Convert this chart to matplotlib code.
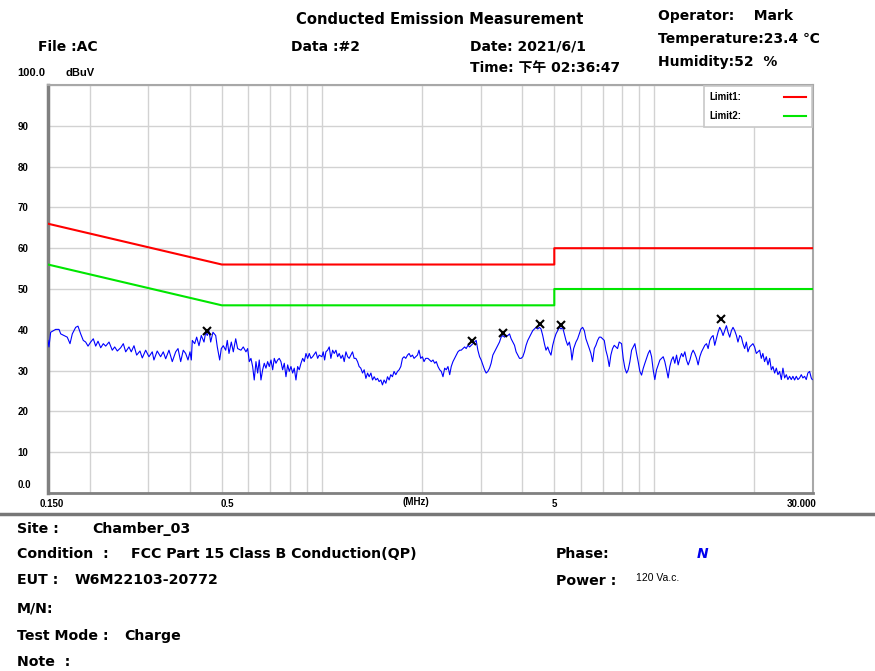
import matplotlib as mpl
mpl.use('Agg')
import matplotlib.pyplot as plt
from matplotlib.lines import Line2D
from matplotlib.ticker import FixedLocator, NullFormatter
from matplotlib.transforms import ScaledTranslation

plt.rcParams['font.family'] = ['DejaVu Sans', 'Noto Sans CJK SC']

# scan trace, MHz / dBuV
freq = [0.150, 0.151, 0.1528, 0.1582, 0.1619, 0.1638, 0.1676, 0.1714, 0.1747, 0.1775,
        0.1817, 0.1846, 0.1881, 0.1915, 0.1947, 0.1979, 0.2016, 0.2053, 0.2087, 0.2121,
        0.2161, 0.2200, 0.2237, 0.2289, 0.2341, 0.2381, 0.2424, 0.2481, 0.2527, 0.2569,
        0.2628, 0.2670, 0.2721, 0.2772, 0.2836, 0.2882, 0.2950, 0.3018, 0.3088, 0.3124,
        0.3196, 0.3272, 0.3333, 0.3389, 0.3467, 0.3547, 0.3632, 0.3691, 0.3760, 0.3828,
        0.3892, 0.3955, 0.4011, 0.4047, 0.4075, 0.4143, 0.4200, 0.4268, 0.4337, 0.4419,
        0.4471, 0.4521, 0.4574, 0.4628, 0.4702, 0.4792, 0.4845, 0.4926, 0.4981, 0.5050,
        0.5135, 0.5192, 0.5254, 0.5339, 0.5413, 0.5504,
        0.5578, 0.5707, 0.5800, 0.5909, 0.5979, 0.6046, 0.6117, 0.6189, 0.6258, 0.6333,
        0.6408, 0.6479, 0.6556, 0.6634, 0.6708, 0.6787, 0.6867, 0.6945, 0.7027, 0.7110,
        0.7189, 0.7274, 0.7360, 0.7442, 0.7529, 0.7618, 0.7705, 0.7796, 0.7888, 0.7976,
        0.8070, 0.8166, 0.8256, 0.8354, 0.8453, 0.8547, 0.8650, 0.8752, 0.8850, 0.8954,
        0.9060, 0.9160, 0.9268, 0.9378, 0.9594, 0.9707, 0.9815, 1.000, 1.009, 1.019,
        1.028, 1.040, 1.052, 1.064, 1.077, 1.089, 1.102, 1.115, 1.127, 1.141,
        1.154, 1.167, 1.181, 1.195, 1.208, 1.222, 1.236, 1.250, 1.265, 1.280,
        1.294, 1.309, 1.325, 1.340, 1.356, 1.372, 1.387, 1.404, 1.420, 1.436,
        1.453, 1.470, 1.486, 1.504, 1.521, 1.538, 1.557, 1.575, 1.593, 1.611,
        1.630, 1.648, 1.668, 1.688, 1.707, 1.727, 1.747, 1.767, 1.787, 1.809,
        1.829, 1.850, 1.872, 1.893, 1.915, 1.938, 1.959, 1.982, 2.006, 2.028, 2.052,
        2.084, 2.109, 2.133, 2.158, 2.184, 2.208, 2.234, 2.261, 2.286, 2.313,
        2.340, 2.366, 2.394, 2.423, 2.449, 2.478, 2.507, 2.535, 2.565, 2.596,
        2.624, 2.655, 2.687, 2.716, 2.749, 2.781, 2.812, 2.846, 2.879, 2.911,
        2.945, 2.980, 3.013, 3.049, 3.085, 3.119, 3.156, 3.193, 3.228, 3.267,
        3.305, 3.342, 3.381, 3.421, 3.459, 3.501, 3.542, 3.581, 3.624, 3.667,
        3.708, 3.751, 3.796, 3.838, 3.883, 3.929, 3.973, 4.020, 4.067, 4.112,
        4.161, 4.210, 4.257, 4.307, 4.358, 4.407, 4.459, 4.511, 4.561, 4.615,
        4.669, 4.721, 4.777, 4.833, 4.887, 4.945, 5.003, 5.059, 5.119, 5.179,
        5.237, 5.298, 5.361, 5.421, 5.485, 5.550, 5.611, 5.650, 5.717, 5.808,
        5.877, 5.947, 6.013, 6.084, 6.156, 6.224, 6.298, 6.372, 6.443, 6.519,
        6.596, 6.669, 6.748, 6.828, 6.904, 6.985, 7.068, 7.146, 7.231, 7.316,
        7.398, 7.485, 7.573, 7.657, 7.748, 7.839,
        7.968, 8.058, 8.153, 8.249, 8.341, 8.440, 8.540, 8.635, 8.737, 8.840,
        8.938, 9.044, 9.151, 9.253, 9.363, 9.474, 9.581, 9.694, 9.808, 9.917,
        10.03, 10.15, 10.27, 10.39, 10.51, 10.63, 10.75, 10.88, 11.00, 11.13,
        11.26, 11.39, 11.52, 11.66, 11.79, 11.93, 12.07, 12.20, 12.35, 12.49,
        12.64, 12.79, 12.94, 13.08, 13.23, 13.39, 13.54, 13.70, 13.86, 14.02,
        14.18, 14.35, 14.51, 14.68, 14.85, 15.02, 15.19, 15.37, 15.54, 15.72,
        15.91, 16.09, 16.28, 16.47, 16.66, 16.85, 17.05, 17.24, 17.44, 17.65,
        17.84, 18.06, 18.27, 18.47, 18.69, 18.91, 19.12, 19.35, 19.57, 19.79,
        20.02, 20.26, 20.48, 20.73, 20.97, 21.20, 21.45, 21.71, 21.96, 22.22,
        22.48, 22.73, 23.00, 23.27, 23.53, 23.81, 24.09, 24.36, 24.65, 24.94,
        25.21, 25.51, 25.81, 26.10, 26.41, 26.72, 27.02, 27.34, 27.66, 27.97,
        28.30, 28.63, 28.95, 29.30, 29.64, 29.84]
level = [37.4, 35.8, 39.4, 40.1, 40.1, 39.0, 38.6, 38.2, 36.6, 39.0,
         40.6, 40.9, 39.0, 37.4, 37.0, 36.0, 37.0, 37.8, 36.0, 37.2,
         35.6, 36.6, 36.0, 37.0, 35.0, 35.8, 34.8, 35.6, 36.6, 34.6,
         35.8, 34.6, 36.1, 33.8, 34.8, 33.1, 35.0, 33.4, 34.6, 32.6,
         34.8, 33.4, 34.6, 32.9, 35.0, 32.2, 34.6, 35.4, 32.2, 35.0,
         34.2, 32.6, 34.6, 32.6, 37.4, 36.6, 38.2, 36.1, 38.6, 37.0,
         39.4, 38.6, 39.8, 37.0, 39.4, 38.6, 35.8, 32.6, 35.4, 36.1,
         35.0, 37.4, 34.2, 37.0, 34.6, 37.8,
         35.4, 35.0, 35.8, 34.6, 35.4, 32.2, 33.0, 31.0, 27.7, 32.2,
         29.4, 32.6, 27.7, 30.2, 31.8, 30.6, 32.2, 31.0, 32.6, 30.2,
         33.0, 31.8, 32.6, 33.0, 32.2, 30.2, 31.8, 28.5, 31.4, 29.8,
         31.0, 29.4, 30.6, 27.7, 31.0, 30.2, 31.8, 33.0, 32.2, 34.2,
         33.0, 34.2, 33.0, 33.4, 34.6, 33.0, 33.8, 33.4, 34.6, 32.6,
         34.6, 35.0, 35.8, 33.0, 35.0, 34.2, 35.0, 33.4, 34.2, 33.0,
         33.8, 32.2, 34.6, 33.4, 33.0, 33.8, 34.6, 33.0, 33.0, 32.2,
         31.0, 30.6, 29.4, 30.2, 28.1, 29.4, 28.5, 29.4, 27.7, 28.5,
         27.7, 28.1, 27.3, 27.7, 26.5, 27.7, 26.9, 28.5, 27.7, 29.0,
         28.5, 29.8, 29.0, 29.8, 30.2, 31.0, 33.0, 33.4, 33.0, 33.8,
         34.2, 33.4, 33.8, 33.0, 33.4, 33.8, 35.0, 33.0, 33.4, 32.2, 33.0,
         33.0, 32.6, 32.2, 32.6, 31.8, 32.2, 31.0, 30.2, 29.8, 28.5,
         30.6, 30.2, 31.0, 29.0, 31.0, 32.2, 33.0, 33.8, 34.6, 35.0,
         35.0, 35.4, 35.8, 35.4, 36.2, 35.8, 36.2, 36.6, 37.0, 37.4,
         35.0, 33.4, 32.6, 31.4, 30.2, 29.4, 29.8, 30.6, 31.8, 33.8,
         34.6, 35.4, 36.2, 37.0, 38.2, 38.6, 38.2, 38.6, 38.6, 39.0,
         37.8, 37.0, 36.2, 34.6, 33.8, 33.0, 33.0, 33.4, 34.6, 36.2,
         37.4, 38.2, 39.0, 39.8, 40.2, 40.6, 40.2, 40.6, 40.2, 38.6,
         36.6, 35.0, 35.8, 34.6, 33.8, 36.2, 37.8, 39.0, 39.8, 40.6,
         40.2, 40.6, 39.0, 37.4, 36.2, 37.0, 35.0, 32.6, 35.4, 37.0,
         37.8, 39.0, 40.2, 40.6, 39.8, 37.8, 36.6, 35.4, 34.2, 32.2,
         35.4, 36.2, 37.4, 38.2, 38.2, 37.8, 37.4, 35.0, 33.4, 31.0,
         33.8, 35.4, 36.2, 35.8, 35.4, 37.0,
         36.6, 33.0, 30.6, 29.4, 30.2, 32.2, 35.0, 35.8, 36.6, 34.2,
         32.2, 29.8, 28.9, 30.5, 31.8, 33.0, 34.2, 35.0, 33.4, 30.2,
         27.8, 30.2, 31.4, 32.6, 33.0, 33.4, 32.2, 30.2, 28.2, 31.0,
         32.6, 33.4, 31.8, 33.8, 31.4, 33.0, 34.2, 33.4, 34.6, 32.6,
         31.4, 32.6, 34.2, 35.0, 34.2, 33.0, 31.4, 33.4, 34.6, 35.4,
         36.2, 36.6, 35.4, 37.4, 38.2, 38.6, 36.2, 37.8, 39.4, 40.6,
         39.8, 38.6, 39.8, 41.0, 39.4, 38.2, 39.8, 40.6, 39.8, 38.6,
         37.0, 38.6, 38.2, 36.6, 35.4, 37.0, 34.6, 35.8, 36.2, 36.6,
         35.8, 34.2, 34.6, 35.0, 33.0, 34.2, 32.2, 33.4, 31.4, 33.0,
         30.2, 31.0, 29.4, 30.6, 29.0, 29.8, 27.8, 30.6, 28.2, 29.0,
         27.8, 28.6, 27.8, 28.6, 27.7, 28.6, 27.8, 28.2, 29.0, 28.2,
         28.6, 27.8, 29.4, 29.8, 28.2, 27.8]

# QP readings at the peaks
peak_freq = [0.452, 2.833, 3.503, 4.518, 5.224, 15.82]
peak_level = [39.7, 37.3, 39.1, 41.4, 41.2, 42.6]

# FCC Part 15 class B limits
limit_freq = [0.15, 0.5, 5, 5, 30]
limit1 = [66, 56, 56, 60, 60]
limit2 = [56, 46, 46, 50, 50]

W, H = 875, 671
narrow = ['Liberation Sans Narrow', 'Liberation Sans', 'DejaVu Sans']

def px(x, y):
    return x / W, 1 - y / H

fig = plt.figure(figsize=(W / 100, H / 100), dpi=100)
ax = fig.add_axes([48 / W, 1 - 493 / H, 765 / W, 408 / H])
ax.set_xscale('log')
ax.set_xlim(0.15, 30)
ax.set_ylim(0, 100)

ax.plot(limit_freq, limit1, color='#ff0000', lw=1.5, label='Limit1:', zorder=3)
ax.plot(limit_freq, limit2, color='#00e600', lw=1.5, label='Limit2:', zorder=3)
ax.plot(freq, level, color='#0000ff', lw=0.8, zorder=4)
ax.plot(peak_freq, peak_level, 'x', color='black', ms=6, mew=1.5, zorder=5)

# grid
ax.xaxis.set_major_locator(FixedLocator([0.15, 0.5, 5, 30]))
ax.xaxis.set_minor_locator(FixedLocator([0.2, 0.3, 0.4, 0.6, 0.7, 0.8, 0.9, 1, 2, 3, 4,
                                         6, 7, 8, 9, 10, 20]))
ax.xaxis.set_minor_formatter(NullFormatter())
ax.set_xticklabels(['0.150', '0.5', '5', '30.000'])
ax.set_yticks(range(0, 101, 10))
ax.set_yticklabels(['0.0', '10', '20', '30', '40', '50', '60', '70', '80', '90', ''])
ax.grid(which='both', color='#d2d2d2', lw=1.0)
ax.set_axisbelow(True)
ax.tick_params(which='both', length=0, labelsize=7)
ax.tick_params(axis='x', pad=4)
ax.tick_params(axis='y', pad=22)
for lbl in ax.get_yticklabels():
    lbl.set_horizontalalignment('left')
for lbl in ax.get_xticklabels() + ax.get_yticklabels():
    lbl.set_fontweight('bold')
    lbl.set_family(narrow)

# nudge a few labels the way the analyser prints them
def shift(lbl, dx, dy):
    lbl.set_transform(lbl.get_transform() + ScaledTranslation(dx / 100, dy / 100, fig.dpi_scale_trans))

xl = ax.get_xticklabels()
shift(xl[0], 4, 0)
shift(xl[1], 6, 0)
shift(xl[3], -11, 0)
shift(ax.get_yticklabels()[0], 0, 9)

ax.set_xlabel('(MHz)', fontsize=7, fontweight='bold', family=narrow)
ax.xaxis.set_label_coords((416 - 48) / 765, -0.022)
ax.xaxis.label.set_verticalalignment('center')

ax.spines['left'].set_linewidth(2.5)
ax.spines['left'].set_color('#808080')
ax.spines['bottom'].set_linewidth(2)
ax.spines['bottom'].set_color('#808080')
for s in ['top', 'right']:
    ax.spines[s].set_linewidth(1.5)
    ax.spines[s].set_color('#a8a8a8')

leg = ax.legend(loc='upper right', markerfirst=False, fancybox=False, framealpha=1,
                edgecolor='#c8c8c8', handlelength=2.2, handletextpad=4.4,
                borderaxespad=0.15, borderpad=0.6, labelspacing=0.9,
                prop={'size': 7, 'weight': 'bold', 'family': narrow})
leg.get_frame().set_linewidth(1.2)

# header
bold = dict(fontsize=10, fontweight='bold', va='center', ha='left')
fig.text(*px(296, 19), 'Conducted Emission Measurement', fontsize=10.6,
         fontweight='bold', va='center', ha='left')
fig.text(*px(38, 47), 'File :AC', **bold)
fig.text(*px(291, 47), 'Data :#2', **bold)
fig.text(*px(470, 46), 'Date: 2021/6/1', **bold)
fig.text(*px(470, 68), 'Time: 下午 02:36:47', **bold)
fig.text(*px(658, 16), 'Operator:    Mark', **bold)
fig.text(*px(658, 39), 'Temperature:23.4 ℃', **bold)
fig.text(*px(658, 62), 'Humidity:52  %', **bold)
small = dict(fontsize=8, fontweight='bold', va='center', ha='left', family=narrow)
fig.text(*px(17, 73), '100.0', **small)
fig.text(*px(65, 73), 'dBuV', **small)

# footer
fig.add_artist(Line2D([0, 1], [1 - 514 / H] * 2, color='#777777', lw=2.5))
foot = dict(fontsize=10.2, fontweight='bold', va='center', ha='left')
fig.text(*px(17, 529), 'Site :', **foot)
fig.text(*px(92, 529), 'Chamber_03', **foot)
fig.text(*px(17, 554), 'Condition  :', **foot)
fig.text(*px(131, 554), 'FCC Part 15 Class B Conduction(QP)', **foot)
fig.text(*px(556, 554), 'Phase:', **foot)
fig.text(*px(697, 554), 'N', fontsize=10, fontweight='bold', style='italic',
         color='#0000ee', va='center', ha='left')
fig.text(*px(17, 580), 'EUT :', **foot)
fig.text(*px(75, 580), 'W6M22103-20772', **foot)
fig.text(*px(556, 581), 'Power :', **foot)
fig.text(*px(636, 578), '120 Va.c.', fontsize=7.5, va='center', ha='left', family=narrow)
fig.text(*px(17, 608), 'M/N:', **foot)
fig.text(*px(17, 636), 'Test Mode :', **foot)
fig.text(*px(124, 636), 'Charge', **foot)
fig.text(*px(17, 662), 'Note  :', **foot)

fig.savefig('out.png', dpi=100)
